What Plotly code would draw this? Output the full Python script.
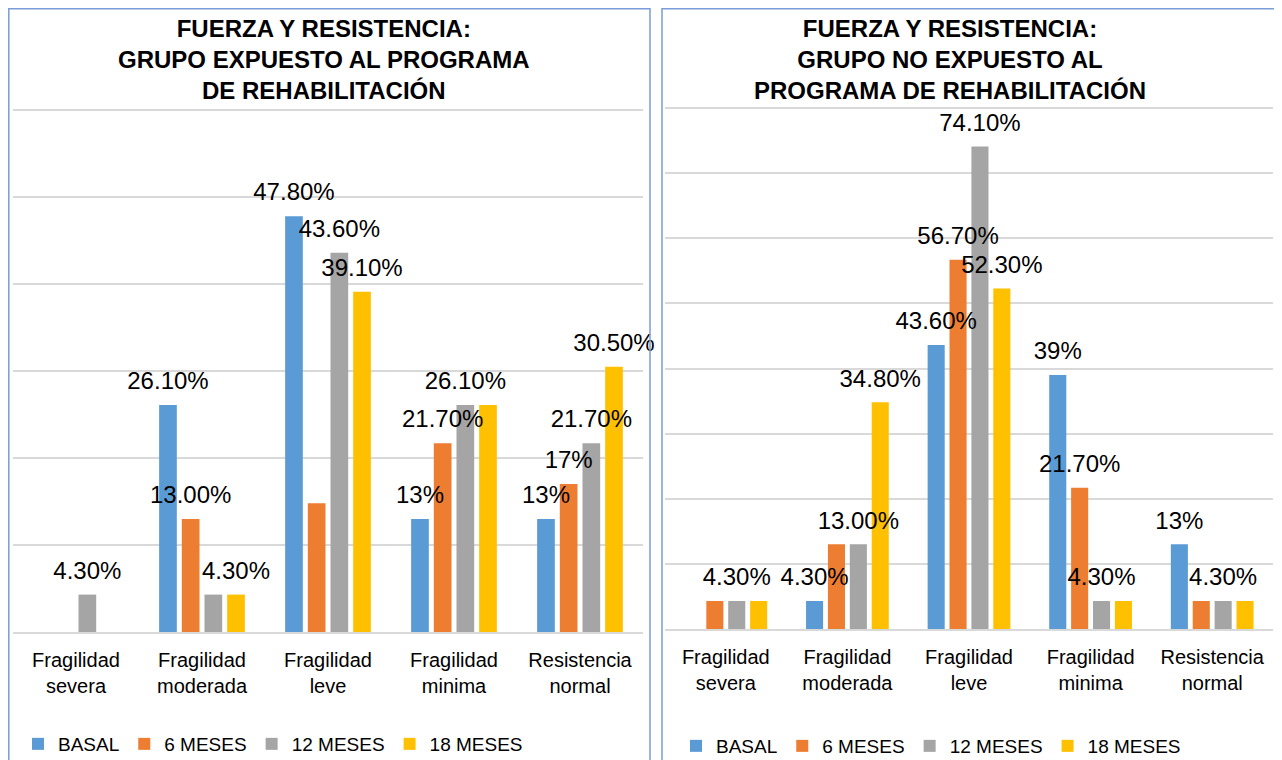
import plotly.graph_objects as go

categories = ["Fragilidad<br>severa", "Fragilidad<br>moderada", "Fragilidad<br>leve",
              "Fragilidad<br>minima", "Resistencia<br>normal"]
series_names = ["BASAL", "6 MESES", "12 MESES", "18 MESES"]
colors = ["#5B9BD5", "#ED7D31", "#A5A5A5", "#FFC000"]

# Left panel: group exposed to the programme (values in %)
left_basal = [0, 26.1, 47.8, 13.0, 13.0]
left_6m = [0, 13.0, 14.8, 21.7, 17.0]
left_12m = [4.3, 4.3, 43.6, 26.1, 21.7]
left_18m = [0, 4.3, 39.1, 26.1, 30.5]
left_labels = [
    ["", "26.10%", "47.80%", "13%", "13%"],
    ["", "13.00%", "", "21.70%", "17%"],
    ["4.30%", "", "43.60%", "26.10%", "21.70%"],
    ["", "4.30%", "39.10%", "", "30.50%"],
]

# Right panel: group not exposed to the programme (values in %)
right_basal = [0, 4.3, 43.6, 39.0, 13.0]
right_6m = [4.3, 13.0, 56.7, 21.7, 4.3]
right_12m = [4.3, 13.0, 74.1, 4.3, 4.3]
right_18m = [4.3, 34.8, 52.3, 4.3, 4.3]
right_labels = [
    ["", "4.30%", "43.60%", "39%", "13%"],
    ["", "", "56.70%", "21.70%", ""],
    ["4.30%", "13.00%", "74.10%", "4.30%", "4.30%"],
    ["", "34.80%", "52.30%", "", ""],
]

left_title = "FUERZA Y RESISTENCIA:<br>GRUPO EXPUESTO AL PROGRAMA<br>DE REHABILITACIÓN"
right_title = "FUERZA Y RESISTENCIA:<br>GRUPO NO EXPUESTO AL<br>PROGRAMA DE REHABILITACIÓN"

# The page body has an 8px margin, so the figure is placed at (8, 8).
OFF = 8
W, H = 1274, 752


def px(p):
    return (p - OFF) / W


def py(p):
    return 1 - (p - OFF) / H


FONT = "Liberation Sans, Arial, sans-serif"

fig = go.Figure()
panels = [
    ("x", "y", "legend", [left_basal, left_6m, left_12m, left_18m], left_labels),
    ("x2", "y2", "legend2", [right_basal, right_6m, right_12m, right_18m], right_labels),
]
for xa, ya, lg, vals, labels in panels:
    for i, name in enumerate(series_names):
        fig.add_trace(go.Bar(
            x=categories, y=vals[i], name=name, marker_color=colors[i],
            marker_line_width=0, offsetgroup=str(i),
            xaxis=xa, yaxis=ya, legend=lg, hoverinfo="skip"))
    for i, name in enumerate(series_names):
        fig.add_trace(go.Scatter(
            x=categories, y=vals[i], mode="markers+text", text=labels[i],
            textposition="top center", offsetgroup=str(i),
            marker=dict(size=14, opacity=0, color=colors[i]),
            textfont=dict(family=FONT, size=24, color="#000000"),
            cliponaxis=False, showlegend=False,
            xaxis=xa, yaxis=ya, hoverinfo="skip"))

axis_common = dict(showline=True, linecolor="#D9D9D9", linewidth=1.5, ticks="",
                   tickfont=dict(family=FONT, size=20, color="#000000"),
                   ticklabelstandoff=9, fixedrange=True)
yaxis_common = dict(showticklabels=False, showgrid=True, gridcolor="#D9D9D9",
                    gridwidth=1.5, zeroline=False, showline=False, dtick=10,
                    fixedrange=True)

legend_common = dict(orientation="h", font=dict(family=FONT, size=19, color="#000000"),
                     bgcolor="rgba(0,0,0,0)", yanchor="middle", xanchor="left",
                     tracegroupgap=0)

fig.update_layout(
    width=W, height=H, margin=dict(l=0, r=0, t=0, b=0, autoexpand=False),
    paper_bgcolor="#FFFFFF", plot_bgcolor="#FFFFFF",
    barmode="group", bargap=0.28, bargroupgap=0.22,
    scattermode="group", scattergap=0.28,
    xaxis=dict(domain=[px(13), px(643)], anchor="y", **axis_common),
    yaxis=dict(domain=[py(632), py(108.3)], range=[0, 60.2], anchor="x", **yaxis_common),
    xaxis2=dict(domain=[px(665), px(1273)], anchor="y2", **axis_common),
    yaxis2=dict(domain=[py(629), py(106.7)], range=[0, 80.2], anchor="x2", **yaxis_common),
    legend=dict(x=px(18), y=py(744), **legend_common),
    legend2=dict(x=px(676), y=py(746), **legend_common),
    showlegend=True,
    annotations=[
        dict(text=left_title, x=px(324), y=py(59), xref="paper", yref="paper",
             showarrow=False, xanchor="center", yanchor="middle",
             font=dict(family=FONT, size=24, color="#000000", weight="bold")),
        dict(text=right_title, x=px(950), y=py(59), xref="paper", yref="paper",
             showarrow=False, xanchor="center", yanchor="middle",
             font=dict(family=FONT, size=24, color="#000000", weight="bold")),
    ],
    shapes=[
        dict(type="rect", xref="paper", yref="paper", x0=px(8.8), x1=px(650),
             y0=-0.05, y1=py(8.8), line=dict(color="#7A9CD8", width=1.5)),
        dict(type="rect", xref="paper", yref="paper", x0=px(662), x1=px(1277),
             y0=-0.05, y1=py(8.8), line=dict(color="#7A9CD8", width=1.5)),
    ],
)

fig.write_html("out.html")
